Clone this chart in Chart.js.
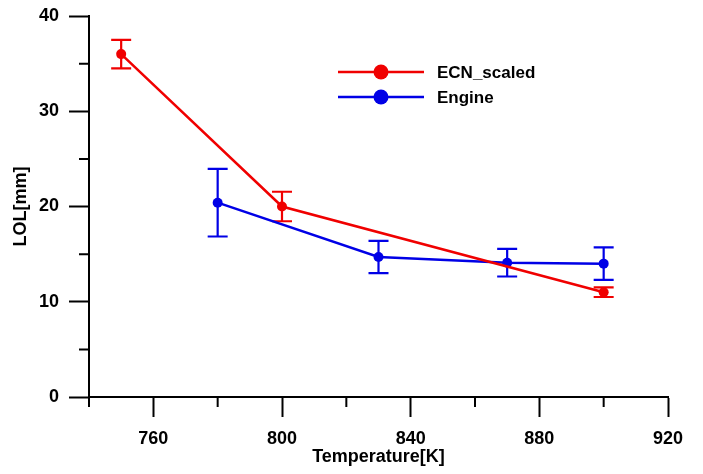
<!DOCTYPE html>
<html>
<head>
<meta charset="utf-8">
<script src="https://cdn.jsdelivr.net/npm/chart.js@4"></script>
<style>
  html, body { margin: 0; padding: 0; background: #fff; }
  #wrap { width: 703px; height: 474px; }
</style>
</head>
<body>
<div id="wrap"><canvas id="chart" width="703" height="474"></canvas></div>
<script>
const ecnTemps = [750, 800, 900];
const ecnLol = [36.0, 20.0, 11.0];
const ecnErr = [1.5, 1.55, 0.5];

const engineTemps = [780, 830, 870, 900];
const engineLol = [20.4, 14.7, 14.1, 14.0];
const engineErr = [3.55, 1.7, 1.45, 1.7];

const xMajor = [760, 800, 840, 880, 920];
const xMinor = [740, 780, 820, 860, 900];
const yMajor = [0, 10, 20, 30, 40];
const yMinor = [5, 15, 25, 35];

const FONT = "'Liberation Sans', Arial, sans-serif";
const RED = '#f00000';
const BLUE = '#0000e6';

function toPoints(xs, ys) {
  return xs.map((x, i) => ({ x, y: ys[i] }));
}

const errorBars = {
  id: 'errorBars',
  beforeDatasetsDraw(chart) {
    const { ctx, scales: { x, y } } = chart;
    chart.data.datasets.forEach(ds => {
      if (!ds.errors) return;
      ctx.save();
      ctx.strokeStyle = ds.borderColor;
      ctx.lineWidth = 2.2;
      ds.data.forEach((p, i) => {
        const px = x.getPixelForValue(p.x);
        const top = y.getPixelForValue(p.y + ds.errors[i]);
        const bot = y.getPixelForValue(p.y - ds.errors[i]);
        ctx.beginPath();
        ctx.moveTo(px, top); ctx.lineTo(px, bot);
        ctx.moveTo(px - 10, top); ctx.lineTo(px + 10, top);
        ctx.moveTo(px - 10, bot); ctx.lineTo(px + 10, bot);
        ctx.stroke();
      });
      ctx.restore();
    });
  }
};

const minorTicks = {
  id: 'minorTicks',
  afterDraw(chart) {
    const { ctx, chartArea, scales: { x, y } } = chart;
    ctx.save();
    ctx.strokeStyle = '#000';
    ctx.lineWidth = 2;
    ctx.beginPath();
    xMinor.forEach(v => {
      const px = x.getPixelForValue(v);
      ctx.moveTo(px, chartArea.bottom);
      ctx.lineTo(px, chartArea.bottom + 10);
    });
    yMinor.forEach(v => {
      const py = y.getPixelForValue(v);
      ctx.moveTo(chartArea.left - 10, py);
      ctx.lineTo(chartArea.left, py);
    });
    ctx.stroke();
    ctx.restore();
  }
};

const lineLegend = {
  id: 'lineLegend',
  afterDraw(chart) {
    const { ctx } = chart;
    ctx.save();
    chart.data.datasets.forEach((ds, i) => {
      const yy = 72 + i * 25;
      ctx.strokeStyle = ds.borderColor;
      ctx.lineWidth = 2.5;
      ctx.beginPath();
      ctx.moveTo(338, yy); ctx.lineTo(424, yy);
      ctx.stroke();
      ctx.fillStyle = ds.borderColor;
      ctx.beginPath();
      ctx.arc(381, yy, 7.5, 0, Math.PI * 2);
      ctx.fill();
      ctx.fillStyle = '#000';
      ctx.font = 'bold 17px ' + FONT;
      ctx.textBaseline = 'middle';
      ctx.fillText(ds.label, 437, yy + 1);
    });
    ctx.restore();
  }
};

new Chart(document.getElementById('chart'), {
  type: 'line',
  data: {
    datasets: [
      {
        label: 'ECN_scaled',
        data: toPoints(ecnTemps, ecnLol),
        errors: ecnErr,
        borderColor: RED,
        backgroundColor: RED,
        borderWidth: 2.5,
        pointRadius: 5,
        pointBorderWidth: 0,
        tension: 0
      },
      {
        label: 'Engine',
        data: toPoints(engineTemps, engineLol),
        errors: engineErr,
        borderColor: BLUE,
        backgroundColor: BLUE,
        borderWidth: 2.5,
        pointRadius: 5,
        pointBorderWidth: 0,
        tension: 0
      }
    ]
  },
  options: {
    responsive: false,
    animation: false,
    layout: { padding: { top: 16, right: 35, left: 0, bottom: 0 } },
    plugins: { legend: { display: false }, tooltip: { enabled: false } },
    scales: {
      x: {
        type: 'linear',
        min: 740,
        max: 920,
        afterBuildTicks: axis => { axis.ticks = xMajor.map(v => ({ value: v })); },
        afterFit: scale => { scale.height = 77; },
        border: { display: true, color: '#000', width: 2 },
        grid: { drawOnChartArea: false, drawTicks: true, tickLength: 20, tickWidth: 2, tickColor: '#000' },
        ticks: { color: '#000', font: { family: FONT, size: 18, weight: 'bold' }, padding: 11, maxRotation: 0 },
        title: { display: true, text: 'Temperature[K]', color: '#000', font: { family: FONT, size: 18, weight: 'bold' }, padding: { top: 0, bottom: 6 } }
      },
      y: {
        type: 'linear',
        min: 0,
        max: 40,
        afterBuildTicks: axis => { axis.ticks = yMajor.map(v => ({ value: v })); },
        afterFit: scale => { scale.width = 89; scale.paddingTop = 0; scale.paddingBottom = 0; },
        border: { display: true, color: '#000', width: 2 },
        grid: { drawOnChartArea: false, drawTicks: true, tickLength: 20, tickWidth: 2, tickColor: '#000' },
        ticks: { color: '#000', font: { family: FONT, size: 18, weight: 'bold' }, padding: 10 },
        title: { display: true, text: 'LOL[mm]', color: '#000', font: { family: FONT, size: 18, weight: 'bold' }, padding: { top: 10, bottom: 0 } }
      }
    }
  },
  plugins: [errorBars, minorTicks, lineLegend]
});
</script>
</body>
</html>
